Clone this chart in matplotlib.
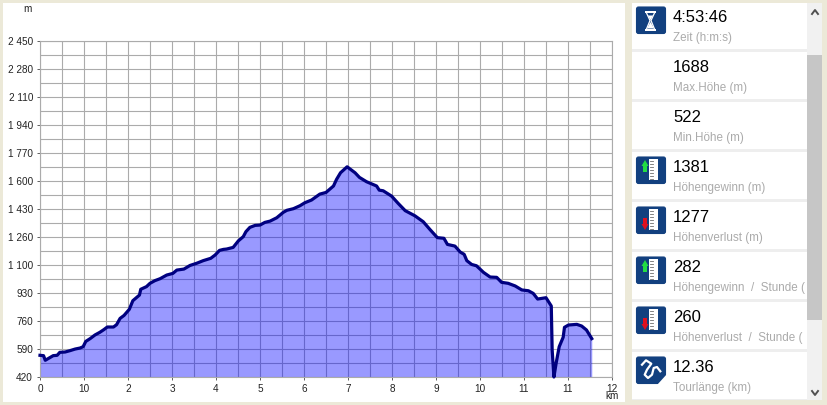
import matplotlib
matplotlib.use("Agg")
import matplotlib.pyplot as plt
import numpy as np
from matplotlib.patches import FancyBboxPatch, Rectangle, Polygon

plt.rcParams['font.family'] = ['Liberation Sans', 'DejaVu Sans']

# distance in axis tick units (the tick labels are rounded km), height in m
dist = [0.00, 0.08, 0.12, 0.21, 0.30, 0.39, 0.45, 0.57, 0.68, 0.80, 0.91, 0.98, 1.04, 1.14, 1.25, 1.36,
        1.45, 1.53, 1.67, 1.74, 1.82, 1.91, 2.03, 2.11, 2.26, 2.29, 2.42, 2.50, 2.61, 2.73, 2.88, 3.02,
        3.11, 3.27, 3.41, 3.56, 3.71, 3.88, 3.98, 4.08, 4.17, 4.24, 4.39, 4.51, 4.62, 4.68, 4.77, 4.89,
        5.00, 5.11, 5.23, 5.38, 5.53, 5.61, 5.76, 5.91, 6.02, 6.17, 6.36, 6.50, 6.67, 6.74, 6.83, 6.98,
        7.16, 7.26, 7.42, 7.65, 7.71, 7.80, 7.99, 8.14, 8.30, 8.52, 8.71, 8.86, 9.03, 9.18, 9.26, 9.43,
        9.55, 9.64, 9.70, 9.81, 9.92, 10.08, 10.23, 10.38, 10.49, 10.64, 10.80, 10.95, 11.10, 11.21,
        11.31, 11.50, 11.62, 11.64, 11.68, 11.73, 11.80, 11.89, 11.92, 12.01, 12.20, 12.31, 12.42, 12.54]
height = [551, 549, 521, 535, 549, 551, 569, 571, 579, 589, 595, 603, 635, 652, 674, 690,
          706, 722, 722, 736, 774, 792, 829, 881, 915, 950, 966, 986, 1002, 1014, 1036, 1046,
          1066, 1072, 1094, 1107, 1123, 1137, 1157, 1185, 1191, 1193, 1203, 1243, 1268, 1298, 1324, 1336,
          1338, 1354, 1362, 1382, 1415, 1427, 1437, 1455, 1473, 1489, 1525, 1535, 1574, 1614, 1654, 1690,
          1654, 1626, 1600, 1574, 1549, 1545, 1513, 1469, 1425, 1394, 1358, 1312, 1262, 1258, 1221, 1211,
          1175, 1161, 1123, 1100, 1092, 1052, 1024, 1022, 992, 986, 970, 946, 941, 925,
          891, 899, 849, 583, 420, 503, 603, 660, 720, 734, 738, 728, 704, 652]

x_labels = ["0", "10", "2", "3", "4", "5", "6", "7", "8", "9", "10", "11", "11", "12"]
y_labels = ["420", "590", "760", "930", "1 100", "1 260", "1 430", "1 600", "1 770", "1 940", "2 110", "2 280", "2 450"]

stat_values = ["4:53:46", "1688", "522", "1381", "1277", "282", "260", "12.36"]
stat_names = ["Zeit (h:m:s)", "Max.Höhe (m)", "Min.Höhe (m)", "Höhengewinn (m)", "Höhenverlust (m)",
              "Höhengewinn  /  Stunde (", "Höhenverlust  /  Stunde (", "Tourlänge (km)"]
stat_icons = ["time", None, None, "up", "down", "up", "down", "route"]

card_tops = [3, 52, 102, 152, 202, 252, 302, 352]
card_bottoms = [49, 99, 149, 199, 249, 299, 349, 399]

W, H = 828, 405
BLUE = "#12407F"

fig = plt.figure(figsize=(W / 100, H / 100), dpi=100, facecolor="#ECE9D8")

# page layer in pixel coords
bg = fig.add_axes([0, 0, 1, 1])
bg.set_xlim(0, W)
bg.set_ylim(H, 0)
bg.axis("off")
bg.add_patch(Rectangle((3, 3), 622, 399, fc="white", ec="none"))
bg.add_patch(Rectangle((632, 3), 190, 397, fc="#EEEEEE", ec="none"))
bg.add_patch(Rectangle((807, 3), 15, 397, fc="#F1F1F1", ec="none"))
bg.add_patch(Rectangle((807, 55), 15, 265, fc="#C6C6C6", ec="none"))
bg.plot([812, 815, 818], [14, 10, 14], color="#505050", lw=1.4)
bg.plot([812, 815, 818], [391, 395, 391], color="#505050", lw=1.4)


def draw_icon(kind, y):
    bg.add_patch(FancyBboxPatch((636.5, y), 29, 26.5, boxstyle="round,pad=0,rounding_size=2",
                                fc=BLUE, ec=BLUE, lw=0.8))
    if kind == "time":
        bg.add_patch(Rectangle((645, y + 4), 11, 2.2, fc="white", ec="none"))
        bg.add_patch(Rectangle((645, y + 21.5), 11, 2.2, fc="white", ec="none"))
        bg.plot([646.5, 650, 646.5], [y + 6, y + 13.5, y + 22], color="white", lw=0.9)
        bg.plot([654.5, 651, 654.5], [y + 6, y + 13.5, y + 22], color="white", lw=0.9)
        bg.add_patch(Polygon([[648, y + 8.5], [653, y + 8.5], [650.5, y + 13]], fc="white", ec="none"))
        bg.add_patch(Polygon([[650.5, y + 15], [654, y + 21.5], [647, y + 21.5]], fc="white", ec="none"))
    elif kind == "up" or kind == "down":
        bg.add_patch(Rectangle((649, y + 2), 9.5, 21, fc="white", ec="none"))
        for k in range(7):
            bg.plot([650, 653], [y + 4 + k * 3, y + 4 + k * 3], color="#707070", lw=0.6)
        if kind == "up":
            bg.add_patch(Polygon([[645, y + 3], [648.5, y + 9], [647, y + 9], [647, y + 15], [643, y + 15], [643, y + 9], [641.5, y + 9]],
                                 fc="#22DD44", ec="none"))
        else:
            bg.add_patch(Polygon([[645, y + 23], [648.5, y + 17], [647, y + 17], [647, y + 11], [643, y + 11], [643, y + 17], [641.5, y + 17]],
                                 fc="#E01020", ec="none"))
    elif kind == "route":
        bg.plot([642, 646, 651.3, 647, 644.7, 648, 652, 653.7, 657, 660.3],
                [y + 7.7, y + 3.3, y + 6.7, y + 12.7, y + 17.7, y + 21, y + 17.7, y + 11, y + 10, y + 14.3],
                color="white", lw=1.6)
        bg.add_patch(Polygon([[657, y + 27.5], [667, y + 27.5], [667, y + 17]], fc="white", ec="none"))


for i in range(len(stat_values)):
    top = card_tops[i]
    bg.add_patch(Rectangle((632, top), 175, card_bottoms[i] - top, fc="white", ec="none"))
    if stat_icons[i]:
        draw_icon(stat_icons[i], 7 + 50 * i)
    bg.text(673, 17 + 50 * i, stat_values[i], fontsize=12, color="black", va="center", ha="left")
    bg.text(673, 38 + 50 * i, stat_names[i], fontsize=8.4, color="#ABABAB", va="center", ha="left")

# profile chart
ax = fig.add_axes([40 / W, (H - 377) / H, 572 / W, 336 / H])
ax.patch.set_alpha(0)
ax.set_xlim(0, 13)
ax.set_ylim(420, 2450)
y_pos = np.linspace(420, 2450, 13)
ax.set_xticks(np.arange(14))
ax.set_xticklabels(x_labels)
ax.set_yticks(y_pos)
ax.set_yticklabels(y_labels)
ax.set_xticks(np.arange(0.5, 13, 1), minor=True)
ax.set_yticks(y_pos[:-1] + (y_pos[1] - y_pos[0]) / 2, minor=True)
ax.grid(True, which="both", color="#ABABAB", lw=0.8)
ax.set_axisbelow(True)
ax.tick_params(which="major", length=2.5, width=0.7, color="#606060", labelsize=7.2, pad=2.5, labelcolor="#222222")
ax.tick_params(which="minor", length=0)
for s in ax.spines.values():
    s.set_color("#ABABAB")
    s.set_linewidth(0.8)

ax.fill_between(dist, height, 420, color="#0000FF", alpha=0.4, lw=0)
ax.plot(dist, height, color="#000080", lw=2.3, solid_joinstyle="round", clip_on=False, zorder=4)

bg.text(27, 9, "m", fontsize=7.2, color="#222222", ha="center", va="center")
bg.text(612, 396, "km", fontsize=7.2, color="#222222", ha="center", va="center")

fig.savefig("out.png", dpi=100, facecolor=fig.get_facecolor())
